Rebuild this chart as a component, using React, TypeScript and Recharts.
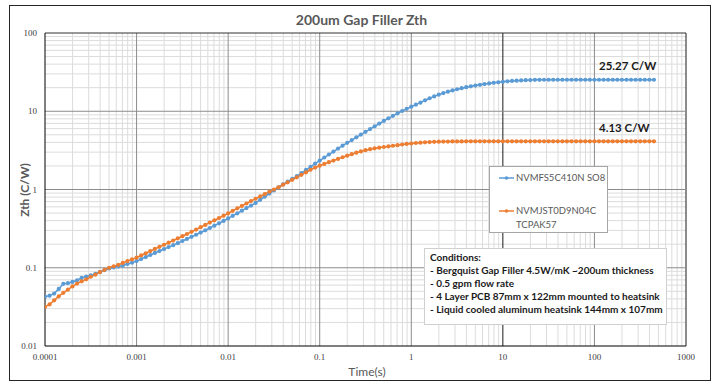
import React from "react";
import { LineChart, Line, XAxis, YAxis, ReferenceLine } from "recharts";

// time points (s), log spaced
const TIME_S = [
  1.0e-4, 1.122e-4, 1.259e-4, 1.413e-4, 1.585e-4, 1.778e-4, 1.995e-4, 2.239e-4, 2.512e-4, 2.818e-4,
  3.162e-4, 3.548e-4, 3.981e-4, 4.467e-4, 5.012e-4, 5.623e-4, 6.31e-4, 7.079e-4, 7.943e-4, 8.913e-4,
  1.0e-3, 1.122e-3, 1.259e-3, 1.413e-3, 1.585e-3, 1.778e-3, 1.995e-3, 2.239e-3, 2.512e-3, 2.818e-3,
  3.162e-3, 3.548e-3, 3.981e-3, 4.467e-3, 5.012e-3, 5.623e-3, 6.31e-3, 7.079e-3, 7.943e-3, 8.913e-3,
  1.0e-2, 1.122e-2, 1.259e-2, 1.413e-2, 1.585e-2, 1.778e-2, 1.995e-2, 2.239e-2, 2.512e-2, 2.818e-2,
  3.162e-2, 3.548e-2, 3.981e-2, 4.467e-2, 5.012e-2, 5.623e-2, 6.31e-2, 7.079e-2, 7.943e-2, 8.913e-2,
  0.1, 0.1122, 0.1259, 0.1413, 0.1585, 0.1778, 0.1995, 0.2239, 0.2512, 0.2818,
  0.3162, 0.3548, 0.3981, 0.4467, 0.5012, 0.5623, 0.631, 0.7079, 0.7943, 0.8913,
  1, 1.122, 1.259, 1.413, 1.585, 1.778, 1.995, 2.239, 2.512, 2.818,
  3.162, 3.548, 3.981, 4.467, 5.012, 5.623, 6.31, 7.079, 7.943, 8.913,
  10, 11.22, 12.59, 14.13, 15.85, 17.78, 19.95, 22.39, 25.12, 28.18,
  31.62, 35.48, 39.81, 44.67, 50.12, 56.23, 63.1, 70.79, 79.43, 89.13,
  100, 112.2, 125.9, 141.3, 158.5, 177.8, 199.5, 223.9, 251.2, 281.8,
  316.2, 354.8, 398.1, 446.7,
];

// NVMFS5C410N SO8, Zth (C/W)
const ZTH_SO8 = [
  0.0427, 0.044, 0.0468, 0.0537, 0.0624, 0.0635, 0.0659, 0.0692, 0.0741, 0.0771,
  0.0798, 0.0834, 0.0883, 0.0933, 0.098, 0.1009, 0.1035, 0.1067, 0.1117, 0.1159,
  0.1216, 0.1291, 0.1371, 0.1455, 0.1545, 0.1637, 0.1734, 0.1837, 0.1945, 0.2061,
  0.2198, 0.2333, 0.2483, 0.2642, 0.2818, 0.3006, 0.3221, 0.3451, 0.3698, 0.3972,
  0.4266, 0.4603, 0.4966, 0.5358, 0.5781, 0.6237, 0.673, 0.7379, 0.8091, 0.8872,
  0.9727, 1.069, 1.164, 1.262, 1.368, 1.486, 1.622, 1.778, 1.95, 2.138,
  2.344, 2.564, 2.799, 3.055, 3.334, 3.631, 3.945, 4.285, 4.645, 5.035,
  5.458, 5.916, 6.412, 6.95, 7.516, 8.128, 8.75, 9.397, 10.07, 10.74,
  11.43, 12.13, 12.88, 13.8, 14.66, 15.49, 16.29, 17.06, 17.78, 18.45,
  19.1, 19.72, 20.28, 20.8, 21.28, 21.78, 22.23, 22.65, 23.07, 23.44,
  23.77, 24.1, 24.38, 24.6, 24.77, 24.95, 25.06, 25.18, 25.23, 25.27,
  25.27, 25.27, 25.27, 25.27, 25.27, 25.27, 25.27, 25.27, 25.27, 25.27,
  25.27, 25.27, 25.27, 25.27, 25.27, 25.27, 25.27, 25.27, 25.27, 25.27,
  25.27, 25.27, 25.27, 25.27,
];

// NVMJST0D9N04C TCPAK57, Zth (C/W)
const ZTH_TCPAK = [
  0.0316, 0.034, 0.0383, 0.0431, 0.0478, 0.0524, 0.0578, 0.0627, 0.0671, 0.0711,
  0.0767, 0.0815, 0.0877, 0.094, 0.1, 0.1045, 0.1089, 0.1151, 0.1216, 0.1279,
  0.1346, 0.1436, 0.1531, 0.1633, 0.1738, 0.1849, 0.1968, 0.2094, 0.2228, 0.2371,
  0.2529, 0.2698, 0.2877, 0.3076, 0.3296, 0.3524, 0.3776, 0.4036, 0.4325, 0.4624,
  0.4955, 0.5346, 0.5741, 0.6166, 0.6622, 0.7112, 0.7621, 0.8166, 0.875, 0.9354,
  1.0, 1.069, 1.151, 1.236, 1.331, 1.432, 1.542, 1.66, 1.787, 1.906,
  2.014, 2.123, 2.234, 2.344, 2.46, 2.582, 2.704, 2.831, 2.951, 3.069,
  3.177, 3.273, 3.357, 3.428, 3.491, 3.556, 3.622, 3.69, 3.758, 3.819,
  3.873, 3.926, 3.972, 4.009, 4.037, 4.064, 4.083, 4.093, 4.102, 4.112,
  4.112, 4.121, 4.125, 4.13, 4.13, 4.13, 4.13, 4.13, 4.13, 4.13,
  4.13, 4.13, 4.13, 4.13, 4.13, 4.13, 4.13, 4.13, 4.13, 4.13,
  4.13, 4.13, 4.13, 4.13, 4.13, 4.13, 4.13, 4.13, 4.13, 4.13,
  4.13, 4.13, 4.13, 4.13, 4.13, 4.13, 4.13, 4.13, 4.13, 4.13,
  4.13, 4.13, 4.13, 4.13,
];

const X_TICKS = [0.0001, 0.001, 0.01, 0.1, 1, 10, 100, 1000];
const Y_TICKS = [0.01, 0.1, 1, 10, 100];
const MINOR_STEPS = [2, 3, 4, 5, 6, 7, 8, 9];

const SERIES_NAMES = ["NVMFS5C410N SO8", "NVMJST0D9N04C TCPAK57"];
const END_LABELS = ["25.27 C/W", "4.13 C/W"];
const CONDITIONS = [
  "Conditions:",
  "- Bergquist Gap Filler 4.5W/mK ~200um thickness",
  "- 0.5 gpm flow rate",
  "- 4 Layer PCB 87mm x 122mm mounted to heatsink",
  "- Liquid cooled aluminum heatsink 144mm x 107mm",
];

const BLUE = "#5b9bd5";
const ORANGE = "#ed7d31";
const GRID_MAJOR = "#8c8c8c";
const GRID_MINOR = "#dcdcdc";

const rows = TIME_S.map((t, i) => ({ t, so8: ZTH_SO8[i], tcpak: ZTH_TCPAK[i] }));

const minorX = X_TICKS.slice(0, -1).flatMap((d) => MINOR_STEPS.map((m) => +(d * m).toPrecision(3)));
const minorY = Y_TICKS.slice(0, -1).flatMap((d) => MINOR_STEPS.map((m) => +(d * m).toPrecision(3)));

const LegendIcon = ({ color }: { color: string }) => (
  <svg width={15} height={6} style={{ marginRight: 2, flexShrink: 0 }}>
    <line x1={0} y1={3} x2={15} y2={3} stroke={color} strokeWidth={1.5} />
    <circle cx={7.5} cy={3} r={1.8} fill={color} />
  </svg>
);

export default function App() {
  return (
    <div
      style={{
        position: "absolute",
        left: 0,
        top: 0,
        width: 717,
        height: 386,
        background: "#fff",
        fontFamily: "Lato, 'Open Sans', sans-serif",
      }}
    >
      {/* chart frame */}
      <div
        style={{
          position: "absolute",
          left: 9,
          top: 5,
          width: 700,
          height: 374,
          border: "1px solid #262626",
        }}
      />
      <div
        style={{
          position: "absolute",
          left: 0,
          width: 717,
          top: 11,
          textAlign: "center",
          fontSize: 14,
          fontWeight: 700,
          color: "#595959",
          paddingLeft: 3,
        }}
      >
        200um Gap Filler Zth
      </div>

      <LineChart
        width={717}
        height={386}
        data={rows}
        margin={{ top: 33, right: 31, bottom: 20, left: 0 }}
        style={{ position: "absolute", left: 0, top: 0 }}
      >
        <XAxis
          dataKey="t"
          type="number"
          scale="log"
          domain={[0.0001, 1000]}
          ticks={X_TICKS}
          allowDataOverflow
          height={20}
          tickLine={false}
          axisLine={{ stroke: "#000" }}
          tick={{ fontSize: 9, fill: "#404040", fontFamily: "'Liberation Serif', serif" }}
        />
        <YAxis
          type="number"
          scale="log"
          domain={[0.01, 100]}
          ticks={Y_TICKS}
          allowDataOverflow
          width={45}
          tickLine={false}
          axisLine={{ stroke: "#000" }}
          tick={{ fontSize: 9, fill: "#404040", fontFamily: "'Liberation Serif', serif" }}
        />
        {minorX.map((v) => (
          <ReferenceLine key={"mx" + v} x={v} stroke={GRID_MINOR} strokeWidth={1} />
        ))}
        {minorY.map((v) => (
          <ReferenceLine key={"my" + v} y={v} stroke={GRID_MINOR} strokeWidth={1} />
        ))}
        {X_TICKS.slice(1).map((v) => (
          <ReferenceLine
            key={"Mx" + v}
            x={v}
            stroke={v === 10 || v === 1000 ? "#1a1a1a" : GRID_MAJOR}
            strokeWidth={1}
          />
        ))}
        {Y_TICKS.slice(1).map((v) => (
          <ReferenceLine key={"My" + v} y={v} stroke={v === 100 ? "#333" : GRID_MAJOR} strokeWidth={1} />
        ))}
        <Line
          dataKey="so8"
          name={SERIES_NAMES[0]}
          stroke={BLUE}
          strokeWidth={1.5}
          dot={{ r: 2.1, fill: BLUE, stroke: "none" }}
          isAnimationActive={false}
        />
        <Line
          dataKey="tcpak"
          name={SERIES_NAMES[1]}
          stroke={ORANGE}
          strokeWidth={1.5}
          dot={{ r: 2.1, fill: ORANGE, stroke: "none" }}
          isAnimationActive={false}
        />
      </LineChart>

      {/* axis titles */}
      <div
        style={{
          position: "absolute",
          left: 24,
          top: 190,
          transform: "translate(-50%, -50%) rotate(-90deg)",
          fontSize: 12,
          fontWeight: 700,
          color: "#595959",
          whiteSpace: "nowrap",
        }}
      >
        Zth (C/W)
      </div>
      <div
        style={{
          position: "absolute",
          left: 367,
          top: 371,
          transform: "translate(-50%, -50%)",
          fontSize: 12,
          color: "#595959",
          whiteSpace: "nowrap",
        }}
      >
        Time(s)
      </div>

      {/* end values */}
      <div style={{ position: "absolute", left: 599, top: 59, fontSize: 11.5, fontWeight: 700, color: "#1a1a1a" }}>
        {END_LABELS[0]}
      </div>
      <div style={{ position: "absolute", left: 599, top: 121, fontSize: 11.5, fontWeight: 700, color: "#1a1a1a" }}>
        {END_LABELS[1]}
      </div>

      {/* legend */}
      <div
        style={{
          position: "absolute",
          left: 489,
          top: 166,
          width: 117,
          height: 65,
          background: "#fff",
          border: "1px solid #a6a6a6",
          fontSize: 9.5,
          color: "#595959",
        }}
      >
        <div style={{ position: "absolute", left: 9, top: 5, display: "flex", alignItems: "center" }}>
          <LegendIcon color={BLUE} />
          <span>{SERIES_NAMES[0]}</span>
        </div>
        <div style={{ position: "absolute", left: 9, top: 38, display: "flex", alignItems: "center" }}>
          <LegendIcon color={ORANGE} />
          <span>{SERIES_NAMES[1].split(" ")[0]}</span>
        </div>
        <div style={{ position: "absolute", left: 26, top: 52 }}>{SERIES_NAMES[1].split(" ")[1]}</div>
      </div>

      {/* conditions note */}
      <div
        style={{
          position: "absolute",
          left: 424,
          top: 248,
          width: 236,
          height: 73,
          background: "#fff",
          border: "1px solid #d0d0d0",
          fontSize: 10,
          fontWeight: 700,
          color: "#1a1a1a",
          lineHeight: "12.9px",
          paddingLeft: 5,
          paddingTop: 2,
          boxSizing: "content-box",
        }}
      >
        {CONDITIONS.map((c) => (
          <div key={c} style={{ whiteSpace: "nowrap" }}>
            {c}
          </div>
        ))}
      </div>
    </div>
  );
}
